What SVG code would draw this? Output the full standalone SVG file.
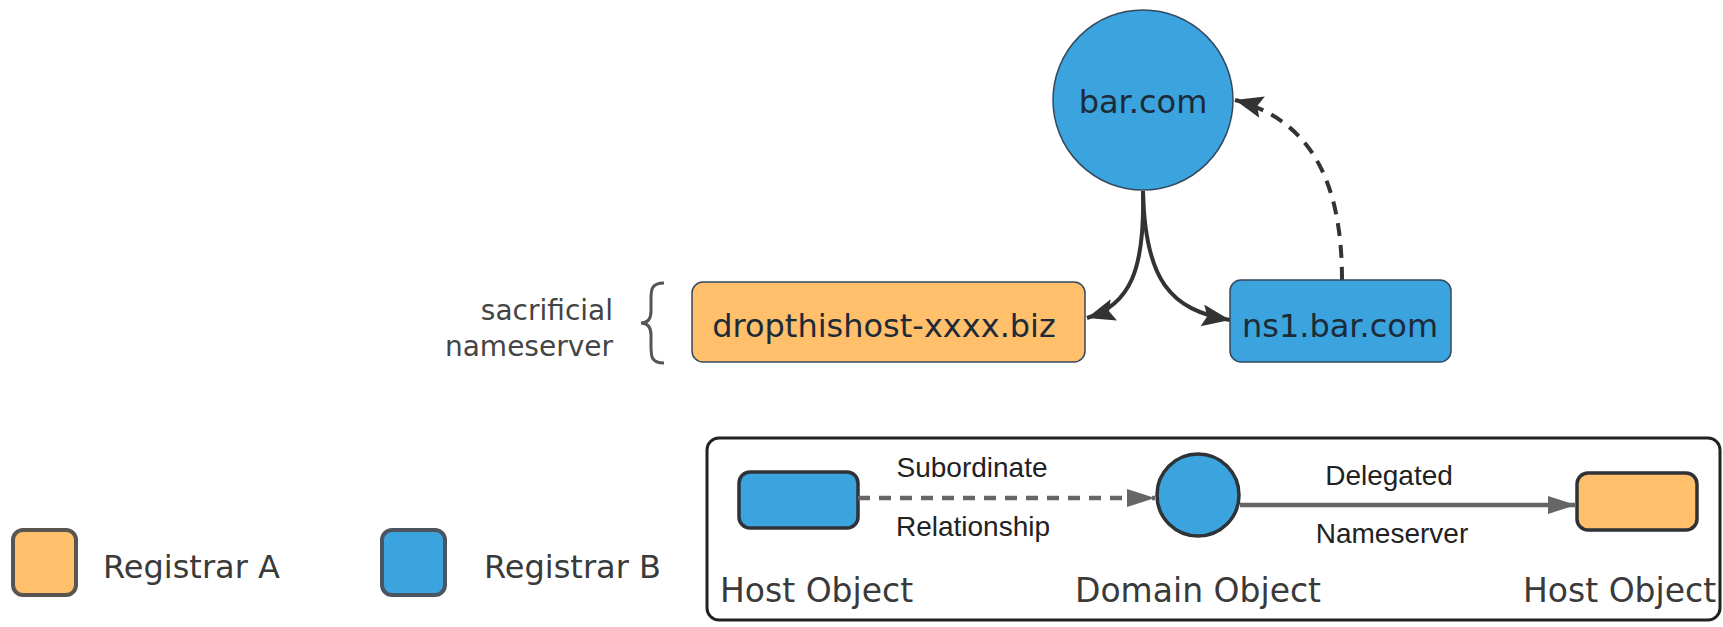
<svg xmlns="http://www.w3.org/2000/svg" width="1723" height="627" viewBox="0 0 1723 627">
  <style>
    .lbl { font-family: "DejaVu Sans", "Liberation Sans", sans-serif; }
    .node-text { font-size: 32px; fill: #1d2b38; text-anchor: middle; }
    .side-text { font-size: 28px; fill: #444; text-anchor: end; }
    .key-text { font-size: 32px; fill: #3a3a3a; }
    .obj-text { font-size: 33px; fill: #3a3a3a; }
    .edge-text { font-family: "Liberation Sans", Arial, sans-serif; font-size: 28px; fill: #222; text-anchor: middle; }
    .blue { fill: #3ba3dd; }
    .orange { fill: #ffbf6b; }
    .thin { stroke: #34495e; stroke-width: 1.5; }
    .thick { stroke: #2e3338; stroke-width: 3.5; }
    .link { fill: none; stroke: #333; stroke-width: 4; }
    .key-link { fill: none; stroke: #666; stroke-width: 4.5; }
  </style>
  <defs>
    <marker id="arrow" markerUnits="userSpaceOnUse" markerWidth="30" markerHeight="24" refX="28" refY="11" orient="auto">
      <path d="M0,0 L28,11 L0,22 L5,11 z" fill="#333"/>
    </marker>
    <marker id="arrow-grey" markerUnits="userSpaceOnUse" markerWidth="30" markerHeight="22" refX="28" refY="9" orient="auto">
      <path d="M0,0 L28,9 L0,18 z" fill="#666"/>
    </marker>
  </defs>

  <rect width="1723" height="627" fill="#fff"/>

  <!-- connectors -->
  <g id="connectors">
    <path class="link" d="M1143,191 C1145,270 1130,305 1087,318" marker-end="url(#arrow)"/>
    <path class="link" d="M1143,191 C1145,280 1170,310 1230,320" marker-end="url(#arrow)"/>
    <path class="link" d="M1342,280 C1342,180 1310,120 1235,100" stroke-dasharray="13 9" marker-end="url(#arrow)"/>
  </g>

  <!-- domain -->
  <g id="node-bar-com">
    <circle class="blue thin" cx="1143" cy="100" r="90"/>
    <text class="lbl node-text" x="1143" y="113">bar.com</text>
  </g>

  <g id="node-dropthishost">
    <rect class="orange thin" x="692" y="282" width="393" height="80" rx="11"/>
    <text class="lbl node-text" x="884" y="337">dropthishost-xxxx.biz</text>
  </g>

  <g id="node-ns1">
    <rect class="blue thin" x="1230" y="280" width="221" height="82" rx="11"/>
    <text class="lbl node-text" x="1340" y="337">ns1.bar.com</text>
  </g>

  <g id="sacrificial-note">
    <text class="lbl side-text" x="613" y="320">sacrificial</text>
    <text class="lbl side-text" x="613" y="356">nameserver</text>
    <path d="M664,283 C651,283 651,290 651,300 L651,311 C651,319 648,323 641,323 C648,323 651,327 651,335 L651,346 C651,356 651,363 664,363" fill="none" stroke="#555" stroke-width="3"/>
  </g>

  <!-- registrar key -->
  <g id="key-registrar-a">
    <rect class="orange" x="13" y="530" width="63" height="65" rx="10" stroke="#5a5550" stroke-width="4"/>
    <text class="lbl key-text" x="103" y="578">Registrar A</text>
  </g>
  <g id="key-registrar-b">
    <rect class="blue" x="382" y="530" width="63" height="65" rx="10" stroke="#4a5560" stroke-width="4"/>
    <text class="lbl key-text" x="484" y="578">Registrar B</text>
  </g>

  <!-- object key -->
  <g id="key-objects">
    <rect x="707" y="438" width="1013" height="182" rx="12" fill="none" stroke="#222" stroke-width="3"/>
    <rect class="blue thick" x="739" y="472" width="119" height="56" rx="11"/>
    <circle class="blue thick" cx="1198" cy="495" r="41"/>
    <rect class="orange thick" x="1577" y="473" width="120" height="57" rx="11"/>
    <path class="key-link" d="M858,498 L1155,498" stroke-dasharray="12 9" marker-end="url(#arrow-grey)"/>
    <path class="key-link" d="M1240,505 L1576,505" marker-end="url(#arrow-grey)"/>
    <text class="edge-text" x="972" y="477">Subordinate</text>
    <text class="edge-text" x="973" y="536">Relationship</text>
    <text class="edge-text" x="1389" y="485">Delegated</text>
    <text class="edge-text" x="1392" y="543">Nameserver</text>
    <text class="lbl obj-text" x="720" y="602">Host Object</text>
    <text class="lbl obj-text" x="1075" y="602">Domain Object</text>
    <text class="lbl obj-text" x="1523" y="602">Host Object</text>
  </g>
</svg>
